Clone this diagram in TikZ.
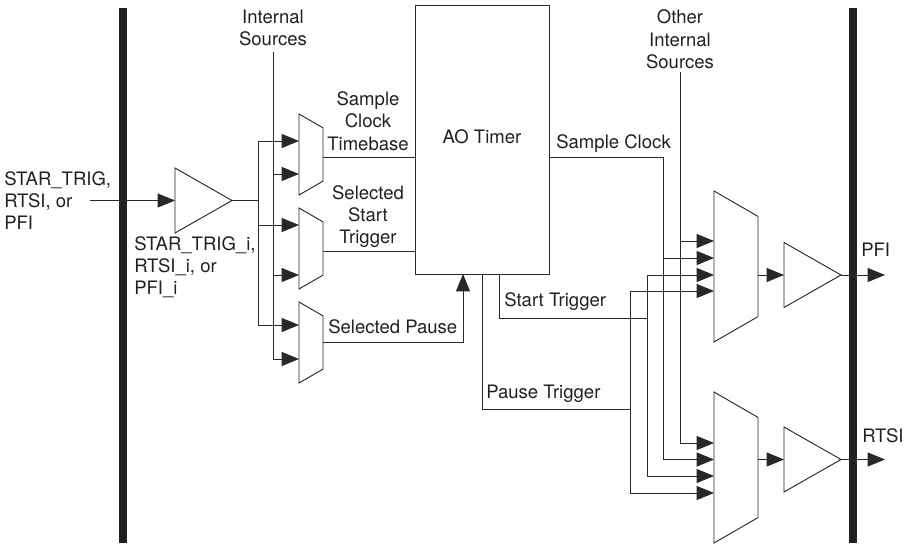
\documentclass[tikz,border=0pt]{standalone}
\usepackage{fontspec}
\setmainfont{TeX Gyre Heros}
\usepackage{tikz}
\usetikzlibrary{arrows.meta,positioning,calc,shapes.geometric}
\definecolor{inkline}{HTML}{2B2728}
\definecolor{inktext}{HTML}{231F20}

\begin{document}
\begin{tikzpicture}[
    x=0.75pt, y=-0.75pt,
    bar/.style={draw=none, fill=inktext, minimum width=6pt, minimum height=401.25pt, inner sep=0pt, outer sep=0pt},
    buf/.style={draw=inkline, line width=0.7pt, isosceles triangle, isosceles triangle stretches, minimum width=48.75pt, minimum height=42.75pt, inner sep=0pt, outer sep=0pt, anchor=lower side},
    mux/.style={draw=inkline, line width=0.7pt, trapezium, trapezium stretches body, trapezium left angle=60, trapezium right angle=60, shape border rotate=270, inner ysep=1pt, outer sep=0pt},
    smallmux/.style={mux, inner xsep=9pt, minimum width=60.75pt},
    bigmux/.style={mux, inner xsep=16.5pt, minimum width=113.25pt},
    wire/.style={draw=inkline, line width=0.7pt},
    sig/.style={wire, -{Triangle[length=13pt,width=10.5pt]}},
    lbl/.style={font=\fontsize{13.9pt}{16.7pt}\selectfont, text=inktext, inner sep=0pt, align=center},
    lbll/.style={lbl, align=left, anchor=west}
]
\useasboundingbox (0,0) rectangle (906,546);

% buses at the two sides
\node[bar] (lbar) at (123,275.5) {};
\node[bar] (rbar) at (853,275.5) {};

% input side
\node[buf] (inbuf) at (175,200.5) {};
\node[smallmux] (mux1) at (311,154.5) {};
\node[smallmux] (mux2) at (311,248.5) {};
\node[smallmux] (mux3) at (311,342.5) {};
\node[draw=inkline, line width=0.7pt, minimum width=100.5pt, minimum height=201.75pt, inner sep=0pt, outer sep=0pt] (timer) at (482,139.5) {};

% output side
\node[bigmux] (muxa) at (736,266.5) {};
\node[bigmux] (muxb) at (736,467.5) {};
\node[buf] (bufa) at (784,275) {};
\node[buf] (bufb) at (784,459.5) {};

% free ends and corners
\coordinate (infree) at (90,200.5);
\coordinate (isrc) at (273,52);
\coordinate (isrcend) at (273,359);
\coordinate (bus) at (258,200.5);
\coordinate (bustop) at (258,141);
\coordinate (busbot) at (258,325);
\coordinate (osrc) at (680,72);
\coordinate (pfiend) at (885,275);
\coordinate (rtsiend) at (885,459.5);

% inputs of the small muxes
\coordinate (m1a) at (299,141);
\coordinate (m1b) at (299,174);
\coordinate (m2a) at (299,225);
\coordinate (m2b) at (299,275);
\coordinate (m3a) at (299,325);
\coordinate (m3b) at (299,359);

% inputs of the big muxes
\coordinate (aa) at (714,241);
\coordinate (ab) at (714,258);
\coordinate (ac) at (714,275);
\coordinate (ad) at (714,291);
\coordinate (ba) at (714,443);
\coordinate (bb) at (714,459.5);
\coordinate (bc) at (714,476);
\coordinate (bd) at (714,493);

\draw[sig] (infree) -- (inbuf.lower side);
\draw[wire] (inbuf.apex) -- (bus);
\draw[wire] (bustop) -- (busbot);
\draw[wire] (isrc) -- (isrcend);

\draw[sig] (bustop) -- (m1a);
\draw[sig] (273,174) -- (m1b);
\draw[sig] (258,225) -- (m2a);
\draw[sig] (273,275) -- (m2b);
\draw[sig] (busbot) -- (m3a);
\draw[sig] (isrcend) -- (m3b);

% muxes into the timer
\draw[wire] (323,157) -- (timer.west |- 323,157);
\draw[wire] (323,251) -- (timer.west |- 323,251);
\draw[sig] (323,342) -| (timer.south -| 463,0);

% timer outputs
\draw[wire] (timer.east |- 0,157) -| (663,258);
\draw[wire] (663,258) -- (663,459.5);
\draw[wire] (timer.south -| 499,0) |- (647,318);
\draw[wire] (timer.south -| 482,0) |- (630,409);
\draw[wire] (647,275) -- (647,476);
\draw[wire] (630,291) -- (630,493);
\draw[wire] (osrc) -- (680,443);

\draw[sig] (680,241) -- (aa);
\draw[sig] (663,258) -- (ab);
\draw[sig] (647,275) -- (ac);
\draw[sig] (630,291) -- (ad);
\draw[sig] (680,443) -- (ba);
\draw[sig] (663,459.5) -- (bb);
\draw[sig] (647,476) -- (bc);
\draw[sig] (630,493) -- (bd);

\draw[sig] (muxa.east |- bufa.lower side) -- (bufa.lower side);
\draw[sig] (muxb.east |- bufb.lower side) -- (bufb.lower side);
\draw[sig] (bufa.apex) -- (pfiend);
\draw[sig] (bufb.apex) -- (rtsiend);

% labels
\node[lbll] (linlbl) at (4,200.5) {STAR\_TRIG,\\RTSI, or\\PFI};
\node[lbll] (ilbl) at (134,267) {STAR\_TRIG\_i,\\RTSI\_i, or\\PFI\_i};
\node[lbl] (srclbl) at (273,28) {Internal\\Sources};
\node[lbl] (tblbl) at (368,121) {Sample\\Clock\\Timebase};
\node[lbl] (sttlbl) at (368,216.5) {Selected\\Start\\Trigger};
\node[lbll] (splbl) at (328,327) {Selected Pause};
\node[lbl] (aolbl) at (482,137) {AO Timer};
\node[lbll] (sclbl) at (556,144) {Sample Clock};
\node[lbll] (stlbl) at (504,302) {Start Trigger};
\node[lbll] (ptlbl) at (486,394) {Pause Trigger};
\node[lbl] (osrclbl) at (680,39.5) {Other\\Internal\\Sources};
\node[lbll] (pfilbl) at (861,250) {PFI};
\node[lbll] (rtsilbl) at (862,436) {RTSI};

\end{tikzpicture}
\end{document}
